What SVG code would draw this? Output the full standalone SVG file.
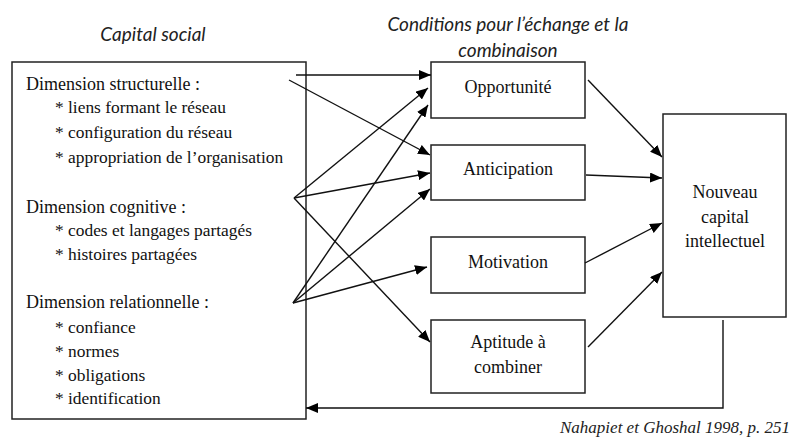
<svg xmlns="http://www.w3.org/2000/svg" width="790" height="437" viewBox="0 0 790 437">
<style>
.box{fill:#fff;stroke:#222;stroke-width:1.5}
.t{font-family:"Liberation Serif","Times New Roman",serif;font-size:18px;fill:#111}
.s{font-size:17.4px}
.c{text-anchor:middle}
.it{font-family:Lato,"Liberation Sans",Arial,sans-serif;font-style:italic;font-size:19px;fill:#222}
.cite{font-family:"Liberation Serif","Times New Roman",serif;font-style:italic;font-size:17px;fill:#222}
.ln{stroke:#111;stroke-width:1.4;fill:none}
.ar{marker-end:url(#ah)}
</style>
<defs>
<marker id="ah" markerUnits="userSpaceOnUse" markerWidth="12" markerHeight="10" refX="12" refY="5" orient="auto">
<path d="M0,0 L12,5 L0,10 Z" fill="#000"/>
</marker>
</defs>
<text class="it c" x="153" y="41">Capital social</text>
<text class="it c" x="508" y="31">Conditions pour l’échange et la</text>
<text class="it c" x="508" y="57">combinaison</text>
<text class="cite" x="790" y="433" text-anchor="end">Nahapiet et Ghoshal 1998, p. 251</text>

<g id="capital-social">
<rect class="box" x="12" y="62" width="294" height="357"/>
<text class="t" x="26" y="90">Dimension structurelle :</text>
<text class="t s" x="55" y="113">* liens formant le réseau</text>
<text class="t s" x="55" y="138">* configuration du réseau</text>
<text class="t s" x="55" y="163">* appropriation de l’organisation</text>
<text class="t" x="26" y="213">Dimension cognitive :</text>
<text class="t s" x="55" y="236">* codes et langages partagés</text>
<text class="t s" x="55" y="260">* histoires partagées</text>
<text class="t" x="26" y="308">Dimension relationnelle :</text>
<text class="t s" x="55" y="333">* confiance</text>
<text class="t s" x="55" y="357">* normes</text>
<text class="t s" x="55" y="381">* obligations</text>
<text class="t s" x="55" y="404">* identification</text>
</g>
<g id="opportunite">
<rect class="box" x="431" y="62" width="154" height="56"/>
<text class="t c" x="508" y="93">Opportunité</text>
</g>
<g id="anticipation">
<rect class="box" x="431" y="145" width="154" height="55"/>
<text class="t c" x="508" y="175">Anticipation</text>
</g>
<g id="motivation">
<rect class="box" x="431" y="237" width="154" height="56"/>
<text class="t c" x="508" y="268">Motivation</text>
</g>
<g id="aptitude">
<rect class="box" x="431" y="320" width="154" height="73"/>
<text class="t c" x="508" y="348">Aptitude à</text>
<text class="t c" x="508" y="373">combiner</text>
</g>
<g id="nouveau-capital">
<rect class="box" x="663" y="114" width="123" height="203"/>
<text class="t c" x="725" y="198">Nouveau</text>
<text class="t c" x="725" y="223">capital</text>
<text class="t c" x="725" y="247">intellectuel</text>
</g>
<g id="connectors">
<line class="ln ar" x1="296" y1="75" x2="431" y2="75"/>
<line class="ln ar" x1="289" y1="80" x2="430" y2="155"/>
<line class="ln ar" x1="294" y1="198" x2="428" y2="88"/>
<line class="ln ar" x1="294" y1="198" x2="430" y2="173"/>
<line class="ln ar" x1="294" y1="198" x2="430" y2="342"/>
<line class="ln ar" x1="293" y1="303" x2="428" y2="105"/>
<line class="ln ar" x1="293" y1="303" x2="430" y2="189"/>
<line class="ln ar" x1="293" y1="303" x2="427" y2="267"/>
<line class="ln ar" x1="588" y1="80" x2="662" y2="157"/>
<line class="ln ar" x1="586" y1="175" x2="662" y2="178"/>
<line class="ln ar" x1="585" y1="263" x2="662" y2="223"/>
<line class="ln ar" x1="588" y1="347" x2="662" y2="272"/>
<polyline class="ln ar" points="723,320 723,408 306,408"/>
</g>
</svg>
